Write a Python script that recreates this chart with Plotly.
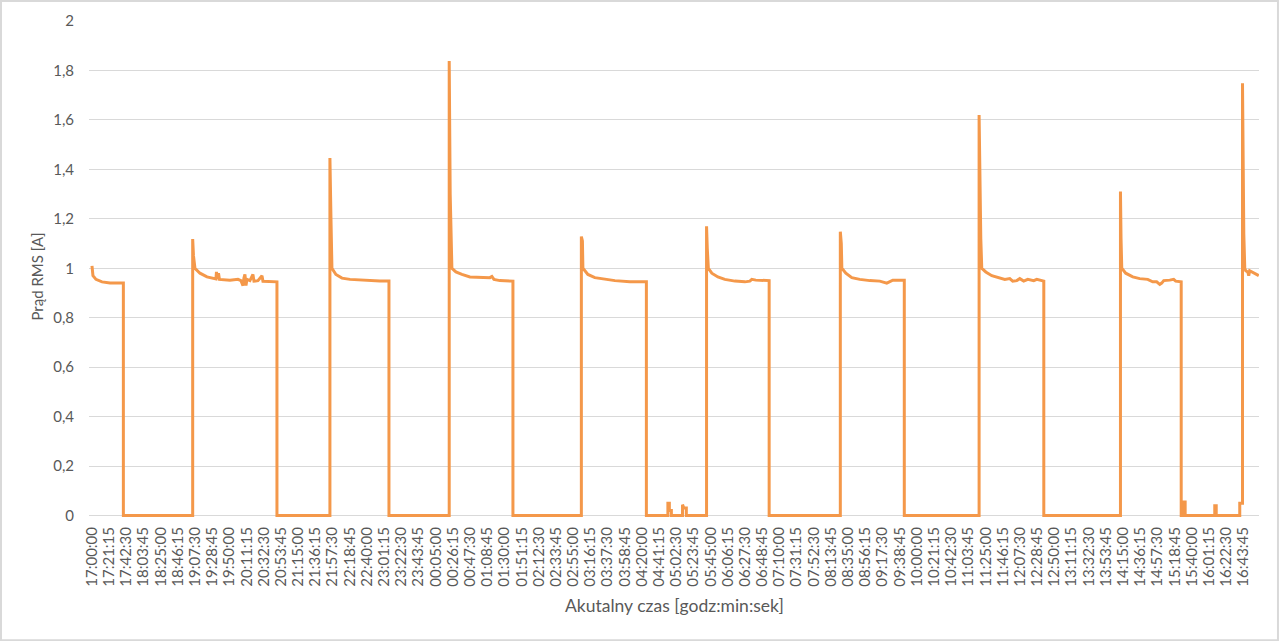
import plotly.graph_objects as go

# Czas od początku pomiaru (17:00:00) w minutach oraz prąd RMS [A]
t_min = [
    0, 1.2, 4.9, 12.4, 22.3, 38.8, 38.8,
    124.5, 124.5, 125.5, 127.3, 133.5, 142.2, 149.6, 153.3, 153.9, 155.1, 156.4, 157.6,
    170.6, 180.5, 184.2, 186.7, 187.9, 189.1, 190.4, 191.6, 195.3, 199.0, 200.3, 205.2,
    210.2, 211.4, 228.7, 228.7,
    294.2, 294.2, 295.5, 296.2, 296.7, 301.6, 309.1, 319.0, 331.3, 343.7, 356.0, 367.2, 367.2,
    441.7, 441.7, 442.9, 443.8, 445.0, 450.0, 457.4, 467.3, 479.6, 492.0, 494.5, 497.0,
    504.4, 520.5, 520.5,
    605.1, 605.1, 606.4, 607.0, 613.2, 621.8, 634.2, 646.6, 665.1, 685.5, 685.5,
    712.1, 712.1, 713.9, 713.9, 716.4, 716.4, 730.2, 730.2, 731.8, 734.9, 734.9,
    759.9, 759.9, 760.8, 762.1, 766.4, 773.9, 782.5, 794.9, 807.3, 813.4, 815.9, 820.8,
    828.3, 837.3, 837.3,
    925.3, 925.3, 926.5, 927.2, 932.1, 939.5, 949.4, 961.8, 974.1, 982.8, 985.2, 990.2,
    998.9, 1004.4, 1004.4,
    1096.9, 1096.9, 1098.1, 1099.0, 1100.2, 1105.2, 1112.6, 1122.5, 1128.7, 1134.8, 1138.5,
    1143.5, 1147.2, 1152.1, 1157.1, 1164.5, 1168.2, 1176.9, 1176.9,
    1271.7, 1271.7, 1272.4, 1273.3, 1278.2, 1286.9, 1295.5, 1305.4, 1311.6, 1316.5, 1320.3,
    1322.7, 1325.2, 1332.6, 1337.5, 1340.0, 1346.8, 1346.8,
    1348.7, 1348.7, 1351.7, 1351.7, 1388.3, 1388.3, 1390.1, 1390.1,
    1419.2, 1419.2, 1422.6, 1422.6, 1423.6, 1424.2, 1425.4, 1426.6, 1429.1, 1430.3, 1431.5,
    1434.0, 1436.5, 1439.0, 1442.7,
]
current = [
    1.01, 0.97, 0.955, 0.945, 0.94, 0.94, 0,
    0, 1.118, 1.05, 1.0, 0.98, 0.965, 0.958, 0.957, 0.985, 0.957, 0.98, 0.955,
    0.952, 0.955, 0.95, 0.93, 0.96, 0.975, 0.93, 0.955, 0.95, 0.975, 0.948, 0.95,
    0.97, 0.947, 0.945, 0,
    0, 1.446, 1.2, 1.088, 1.0, 0.975, 0.96, 0.955, 0.952, 0.95, 0.948, 0.948, 0,
    0, 1.838, 1.3, 1.11, 1.0, 0.985, 0.975, 0.965, 0.962, 0.962, 0.967, 0.955,
    0.95, 0.948, 0,
    0, 1.128, 1.11, 1.0, 0.975, 0.962, 0.955, 0.95, 0.945, 0.945, 0,
    0, 0.05, 0.05, 0.02, 0.02, 0, 0, 0.044, 0.03, 0.03, 0,
    0, 1.17, 1.08, 1.0, 0.98, 0.965, 0.955, 0.948, 0.945, 0.948, 0.955, 0.952,
    0.95, 0.95, 0,
    0, 1.148, 1.1, 1.0, 0.98, 0.962, 0.955, 0.95, 0.948, 0.94, 0.945, 0.952,
    0.952, 0.952, 0,
    0, 1.62, 1.2, 1.12, 1.0, 0.985, 0.97, 0.96, 0.955, 0.958, 0.948,
    0.95, 0.958, 0.948, 0.955, 0.95, 0.955, 0.948, 0,
    0, 1.31, 1.12, 1.0, 0.98, 0.965, 0.958, 0.955, 0.945, 0.945, 0.935,
    0.94, 0.95, 0.952, 0.955, 0.948, 0.945, 0,
    0, 0.055, 0.055, 0, 0, 0.04, 0.04, 0,
    0, 0.05, 0.05, 1.748, 1.3, 1.14, 1.0, 0.99, 0.985, 0.97, 0.99,
    0.985, 0.98, 0.975, 0.97,
]

time_labels = [
    "17:00:00", "17:21:15", "17:42:30", "18:03:45", "18:25:00", "18:46:15", "19:07:30",
    "19:28:45", "19:50:00", "20:11:15", "20:32:30", "20:53:45", "21:15:00", "21:36:15",
    "21:57:30", "22:18:45", "22:40:00", "23:01:15", "23:22:30", "23:43:45", "00:05:00",
    "00:26:15", "00:47:30", "01:08:45", "01:30:00", "01:51:15", "02:12:30", "02:33:45",
    "02:55:00", "03:16:15", "03:37:30", "03:58:45", "04:20:00", "04:41:15", "05:02:30",
    "05:23:45", "05:45:00", "06:06:15", "06:27:30", "06:48:45", "07:10:00", "07:31:15",
    "07:52:30", "08:13:45", "08:35:00", "08:56:15", "09:17:30", "09:38:45", "10:00:00",
    "10:21:15", "10:42:30", "11:03:45", "11:25:00", "11:46:15", "12:07:30", "12:28:45",
    "12:50:00", "13:11:15", "13:32:30", "13:53:45", "14:15:00", "14:36:15", "14:57:30",
    "15:18:45", "15:40:00", "16:01:15", "16:22:30", "16:43:45",
]


def to_offset(label):
    h, m, s = (int(p) for p in label.split(':'))
    return (h * 60 + m + s / 60 - 17 * 60) % 1440


tick_vals = [to_offset(lb) for lb in time_labels]

GRAY_TEXT = '#595959'
GRID = '#d9d9d9'
FONT = 'Lato, Open Sans, sans-serif'

fig = go.Figure()
fig.add_trace(go.Scatter(
    x=t_min,
    y=current,
    mode='lines',
    line=dict(color='#F4984A', width=3),
    showlegend=False,
    hoverinfo='skip'
))

fig.update_layout(
    width=1280,
    height=641,
    margin=dict(l=89, r=21, t=21, b=124, autoexpand=False),
    paper_bgcolor='white',
    plot_bgcolor='white',
    separators=', ',
    font=dict(family=FONT, color=GRAY_TEXT, size=15),
    xaxis=dict(
        range=[-3.7, 1443],
        tickmode='array',
        tickvals=tick_vals,
        ticktext=time_labels,
        tickangle=-90,
        showgrid=False,
        zeroline=False,
        showline=False,
        ticks='',
        automargin=False,
        ticklabelstandoff=6,
        tickfont=dict(size=15, color=GRAY_TEXT),
    ),
    yaxis=dict(
        range=[-0.006, 2.0],
        tick0=0,
        dtick=0.2,
        showgrid=True,
        gridcolor=GRID,
        gridwidth=1,
        zeroline=True,
        zerolinecolor=GRID,
        zerolinewidth=1,
        showline=False,
        ticks='',
        automargin=False,
        ticklabelstandoff=14,
        tickfont=dict(size=15, color=GRAY_TEXT),
    ),
    annotations=[
        dict(text='Prąd RMS [A]', xref='paper', yref='paper', x=-0.0444, y=0.485,
             textangle=-90, showarrow=False, xanchor='center', yanchor='middle',
             font=dict(size=15, color=GRAY_TEXT, family=FONT)),
        dict(text='Akutalny czas [godz:min:sek]', xref='paper', yref='paper', x=0.5, y=-0.178,
             showarrow=False, xanchor='center', yanchor='middle',
             font=dict(size=17.5, color=GRAY_TEXT, family=FONT)),
    ],
    shapes=[dict(
        type='rect', xref='paper', yref='paper',
        x0=-0.0752, x1=1.0162, y0=-0.2485, y1=1.0404,
        line=dict(color=GRID, width=2), fillcolor='rgba(0,0,0,0)', layer='below'
    )],
)

fig.write_html(
    "out.html",
    config={'displayModeBar': False},
    post_script="document.body.style.margin='0';document.body.style.overflow='hidden';"
)
